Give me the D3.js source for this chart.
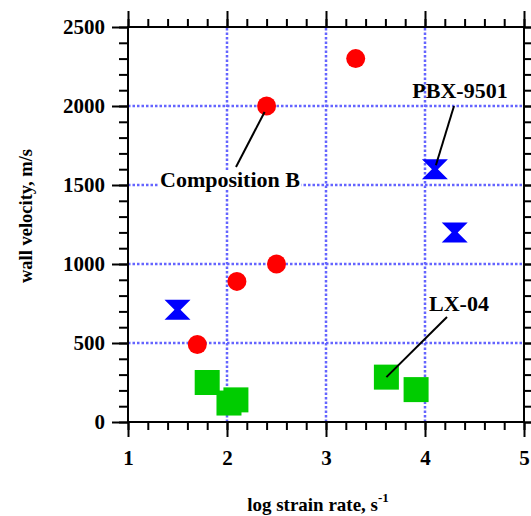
<!DOCTYPE html>
<html>
<head>
<meta charset="utf-8">
<script src="https://cdn.jsdelivr.net/npm/d3@7"></script>
<style>
  body { margin: 0; background: #fff; }
  text { font-family: "Liberation Serif", "Times New Roman", serif; font-weight: bold; }
</style>
</head>
<body>
<div id="chart"></div>
<script>
// data
var compB_x = [1.7, 2.1, 2.4, 2.5, 3.3];
var compB_y = [490, 890, 2000, 1000, 2300];
var pbx_x = [1.5, 4.1, 4.3];
var pbx_y = [710, 1600, 1200];
var lx_x = [1.8, 2.02, 2.09, 3.61, 3.91];
var lx_y = [250, 120, 140, 284, 205];
var xTicks = [1, 2, 3, 4, 5];
var yTicks = [0, 500, 1000, 1500, 2000, 2500];

var width = 531, height = 516;
var margin = {top: 27, left: 128, right: 7, bottom: 94};

var svg = d3.select("#chart").append("svg")
    .attr("width", width)
    .attr("height", height);

var x = d3.scaleLinear().domain([1, 5]).range([margin.left, width - margin.right]);
var y = d3.scaleLinear().domain([0, 2500]).range([height - margin.bottom, margin.top]);

var gridColor = "#6464ff";

// grid
svg.append("g").selectAll("line").data(xTicks.slice(1, -1)).join("line")
    .attr("x1", d => Math.round(x(d))).attr("x2", d => Math.round(x(d)))
    .attr("y1", y(0)).attr("y2", y(2500))
    .attr("stroke", gridColor).attr("stroke-width", 2.5)
    .attr("stroke-dasharray", "2.5,2");
svg.append("g").selectAll("line").data(yTicks.slice(1, -1)).join("line")
    .attr("x1", x(1)).attr("x2", x(5))
    .attr("y1", d => Math.round(y(d))).attr("y2", d => Math.round(y(d)))
    .attr("stroke", gridColor).attr("stroke-width", 2.5)
    .attr("stroke-dasharray", "2.5,2");

// axes: major + minor ticks on all four sides
function styleAxis(g) {
    g.select(".domain").remove();
    g.selectAll("line").attr("stroke", "#000").attr("stroke-width", 2);
}
function styleLabels(g) {
    g.selectAll("text").attr("font-size", 21).attr("fill", "#000")
        .attr("font-family", "Liberation Serif").attr("font-weight", "bold");
}
var xMinor = d3.range(1, 5.001, 0.2);
var yMinor = d3.range(0, 2501, 100);

var axBottom = svg.append("g").attr("transform", `translate(0,${y(0)})`)
    .call(d3.axisBottom(x).tickValues(xMinor).tickSize(8).tickFormat(""));
styleAxis(axBottom);
var axBottomMaj = svg.append("g").attr("transform", `translate(0,${y(0)})`)
    .call(d3.axisBottom(x).tickValues(xTicks).tickSize(15).tickPadding(13).tickFormat(d3.format("d")));
styleAxis(axBottomMaj);
styleLabels(axBottomMaj);

var axTop = svg.append("g").attr("transform", `translate(0,${y(2500)})`)
    .call(d3.axisTop(x).tickValues(xMinor).tickSize(8).tickFormat(""));
styleAxis(axTop);
var axTopMaj = svg.append("g").attr("transform", `translate(0,${y(2500)})`)
    .call(d3.axisTop(x).tickValues(xTicks).tickSize(16).tickFormat(""));
styleAxis(axTopMaj);

var axLeft = svg.append("g").attr("transform", `translate(${x(1)},0)`)
    .call(d3.axisLeft(y).tickValues(yMinor).tickSize(9).tickFormat(""));
styleAxis(axLeft);
var axLeftMaj = svg.append("g").attr("transform", `translate(${x(1)},0)`)
    .call(d3.axisLeft(y).tickValues(yTicks).tickSize(16).tickPadding(7).tickFormat(d3.format("d")));
styleAxis(axLeftMaj);
styleLabels(axLeftMaj);

var axRight = svg.append("g").attr("transform", `translate(${x(5)},0)`)
    .call(d3.axisRight(y).tickValues(yMinor).tickSize(9).tickFormat(""));
styleAxis(axRight);
var axRightMaj = svg.append("g").attr("transform", `translate(${x(5)},0)`)
    .call(d3.axisRight(y).tickValues(yTicks).tickSize(16).tickFormat(""));
styleAxis(axRightMaj);

// frame
svg.append("rect")
    .attr("x", x(1)).attr("y", y(2500))
    .attr("width", x(5) - x(1)).attr("height", y(0) - y(2500))
    .attr("fill", "none").attr("stroke", "#000").attr("stroke-width", 2);

// LX-04 squares
var sq = 25;
svg.append("g").selectAll("rect").data(d3.range(lx_x.length)).join("rect")
    .attr("x", i => x(lx_x[i]) - sq / 2)
    .attr("y", i => y(lx_y[i]) - sq / 2)
    .attr("width", sq).attr("height", sq)
    .attr("fill", "#00cc00");

// Composition B circles
svg.append("g").selectAll("circle").data(d3.range(compB_x.length)).join("circle")
    .attr("cx", i => x(compB_x[i]))
    .attr("cy", i => y(compB_y[i]))
    .attr("r", 9.5)
    .attr("fill", "#ff0000");

// PBX-9501 hourglass
var hw = 13, hh = 10, waist = 3;
svg.append("g").selectAll("path").data(d3.range(pbx_x.length)).join("path")
    .attr("transform", i => `translate(${x(pbx_x[i])},${y(pbx_y[i])})`)
    .attr("d", `M${-hw},${-hh}L${hw},${-hh}L${waist},0L${hw},${hh}L${-hw},${hh}L${-waist},0Z`)
    .attr("fill", "#0000ff");

// annotations
function leader(x1, y1, x2, y2) {
    svg.append("line")
        .attr("x1", x1).attr("y1", y1).attr("x2", x2).attr("y2", y2)
        .attr("stroke", "#000").attr("stroke-width", 2);
}
leader(236, 167, x(2.4) - 2, y(2000) + 6);
leader(454, 106, x(4.1) + 1, y(1600) - 4);
leader(447, 317, x(3.61), y(284));

var cbBg = svg.append("rect").attr("fill", "#fff");
var cb = svg.append("text").attr("x", 230).attr("y", 187)
    .attr("text-anchor", "middle").attr("font-size", 22)
    .text("Composition B");
var bb = cb.node().getBBox();
cbBg.attr("x", bb.x - 1).attr("y", bb.y + 3)
    .attr("width", bb.width + 2).attr("height", bb.height - 6);

svg.append("text").attr("x", 460).attr("y", 98)
    .attr("text-anchor", "middle").attr("font-size", 22)
    .text("PBX-9501");
svg.append("text").attr("x", 459).attr("y", 311)
    .attr("text-anchor", "middle").attr("font-size", 22)
    .text("LX-04");

// axis titles
var xt = svg.append("text").attr("x", 318).attr("y", 511)
    .attr("text-anchor", "middle").attr("font-size", 19);
xt.append("tspan").text("log strain rate, s");
xt.append("tspan").attr("dy", -9).attr("font-size", 13).text("-1");

svg.append("text")
    .attr("transform", "translate(32,216) rotate(-90)")
    .attr("text-anchor", "middle").attr("font-size", 18.5)
    .text("wall velocity, m/s");
</script>
</body>
</html>
